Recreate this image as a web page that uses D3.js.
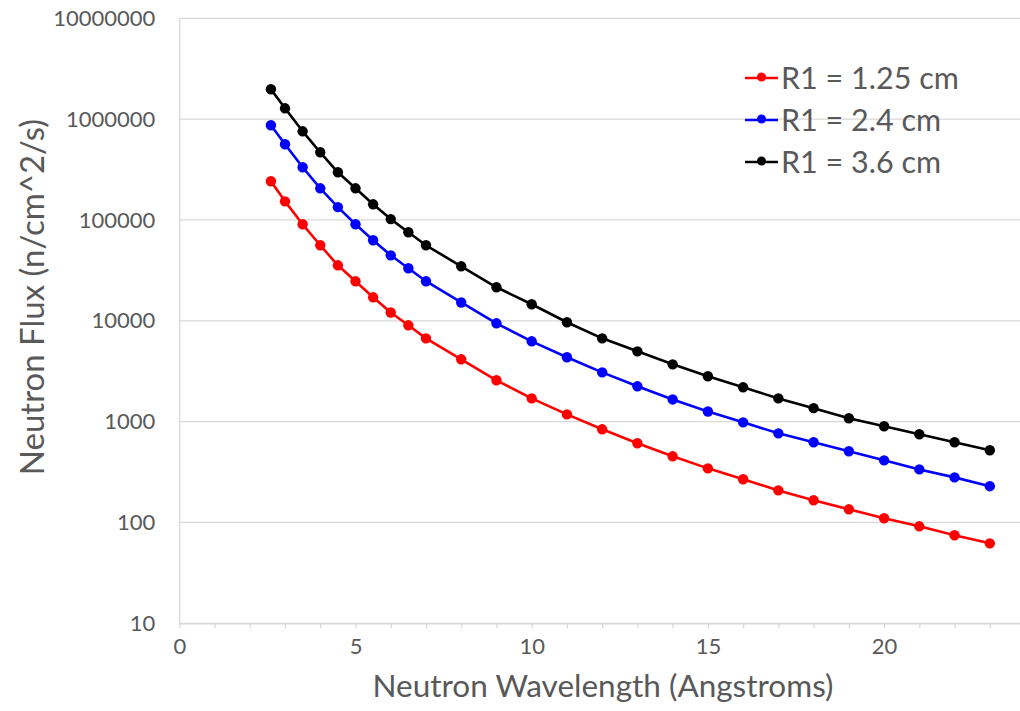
<!DOCTYPE html>
<html>
<head>
<meta charset="utf-8">
<script src="https://cdnjs.cloudflare.com/ajax/libs/d3/7.8.5/d3.min.js"></script>
<style>
    html, body { margin: 0; padding: 0; background: #FFF; }
    #chart { width: 1020px; height: 711px; overflow: hidden; }
    svg { display: block; font-family: Lato, 'Open Sans', sans-serif; }
</style>
</head>
<body>
<div id="chart"></div>
<script>
// ========================================
// Neutron flux vs wavelength (log scale)
// ========================================

// Wavelengths (Angstroms)
const wavelength = [2.6, 3, 3.5, 4, 4.5, 5, 5.5, 6, 6.5, 7, 8, 9, 10, 11, 12, 13, 14, 15, 16, 17, 18, 19, 20, 21, 22, 23];

// Flux values (n/cm^2/s)
const fluxR125 = [242000, 153000, 90600, 56100, 35500, 24700, 17100, 12100, 9020, 6700, 4150, 2570, 1700, 1180, 839, 610, 453, 344, 268, 208, 166, 135, 110, 91.6, 74.6, 62.1];
const fluxR24 = [869000, 563000, 333000, 206000, 134000, 90600, 62900, 44600, 33200, 24700, 15200, 9440, 6260, 4350, 3080, 2240, 1660, 1260, 984, 765, 624, 508, 413, 336, 280, 229];
const fluxR36 = [1980000, 1280000, 757000, 469000, 297000, 206000, 143000, 102000, 75500, 56100, 34700, 21500, 14600, 9670, 6700, 4980, 3700, 2820, 2190, 1700, 1360, 1080, 899, 749, 624, 520];

const seriesNames = ['R1 = 1.25 cm', 'R1 = 2.4 cm', 'R1 = 3.6 cm'];
const seriesColors = ['#FF0000', '#0000FF', '#000000'];

// Axis ticks
const xTicks = d3.range(0, 26, 1);
const xLabels = [0, 5, 10, 15, 20];
const yTicks = [10, 100, 1000, 10000, 100000, 1000000, 10000000];

(function () {
    'use strict';

    const W = 1020, H = 711;
    const left = 179.3, top = 18.3, bottom = 623.3;
    const unit = 35.24;

    const svg = d3.select('#chart').append('svg')
        .attr('width', W)
        .attr('height', H);

    svg.append('rect').attr('width', W).attr('height', H).attr('fill', '#FFF');

    const x = d3.scaleLinear().domain([0, 25]).range([left, left + 25 * unit]);
    const y = d3.scaleLog().domain([10, 10000000]).range([bottom, top]);

    // Gridlines
    svg.append('g')
        .selectAll('line')
        .data(yTicks)
        .join('line')
        .attr('x1', left)
        .attr('x2', x(25))
        .attr('y1', d => y(d))
        .attr('y2', d => y(d))
        .attr('stroke', '#D9D9D9')
        .attr('stroke-width', 1.3);

    // Left axis (labels only + line)
    const yAxis = svg.append('g')
        .attr('transform', `translate(${left},0)`)
        .call(d3.axisLeft(y).tickValues(yTicks).tickFormat(d3.format('d')).tickSize(0).tickPadding(24));
    yAxis.select('.domain').attr('stroke', '#D9D9D9').attr('stroke-width', 1.3);
    yAxis.selectAll('text')
        .attr('fill', '#595959')
        .attr('font-size', '22px')
        .attr('font-family', 'Lato, sans-serif');

    // Bottom axis
    const xAxis = svg.append('g')
        .attr('transform', `translate(0,${bottom})`)
        .call(d3.axisBottom(x).tickValues(xTicks)
            .tickFormat(d => xLabels.includes(d) ? d : '')
            .tickSize(5).tickSizeOuter(0).tickPadding(10));
    xAxis.select('.domain').attr('stroke', '#D9D9D9').attr('stroke-width', 1.3);
    xAxis.selectAll('.tick line').attr('stroke', '#D9D9D9').attr('stroke-width', 1.3);
    xAxis.selectAll('text')
        .attr('fill', '#595959')
        .attr('font-size', '22px')
        .attr('font-family', 'Lato, sans-serif');

    // Axis titles
    svg.append('text')
        .attr('x', 603)
        .attr('y', 697)
        .attr('text-anchor', 'middle')
        .attr('fill', '#595959')
        .attr('font-size', '31.5px')
        .text('Neutron Wavelength (Angstroms)');

    svg.append('text')
        .attr('transform', 'translate(44,297) rotate(-90)')
        .attr('text-anchor', 'middle')
        .attr('fill', '#595959')
        .attr('font-size', '33px')
        .text('Neutron Flux (n/cm^2/s)');

    // Series
    const allSeries = [fluxR125, fluxR24, fluxR36].map((vals, i) => ({
        name: seriesNames[i],
        color: seriesColors[i],
        points: wavelength.map((w, j) => ({ x: w, y: vals[j] }))
    }));

    const line = d3.line().x(d => x(d.x)).y(d => y(d.y));

    const seriesG = svg.append('g').selectAll('g')
        .data(allSeries)
        .join('g');

    seriesG.append('path')
        .attr('d', d => line(d.points))
        .attr('fill', 'none')
        .attr('stroke', d => d.color)
        .attr('stroke-width', 2.6)
        .attr('stroke-linejoin', 'round');

    seriesG.each(function (s) {
        d3.select(this).selectAll('circle')
            .data(s.points)
            .join('circle')
            .attr('cx', d => x(d.x))
            .attr('cy', d => y(d.y))
            .attr('r', 5.2)
            .attr('fill', s.color);
    });

    // Legend
    const legend = svg.append('g').attr('transform', 'translate(745,78)');
    const rows = legend.selectAll('g')
        .data(allSeries)
        .join('g')
        .attr('transform', (d, i) => `translate(0,${i * 42})`);

    rows.append('line')
        .attr('x1', 0).attr('x2', 33)
        .attr('stroke', d => d.color)
        .attr('stroke-width', 2.6);
    rows.append('circle')
        .attr('cx', 16.5).attr('cy', -1)
        .attr('r', 4.5)
        .attr('fill', d => d.color);
    rows.append('text')
        .attr('x', 36)
        .attr('dy', '0.35em')
        .attr('fill', '#595959')
        .attr('font-size', '30.5px')
        .text(d => d.name);
})();
</script>
</body>
</html>
